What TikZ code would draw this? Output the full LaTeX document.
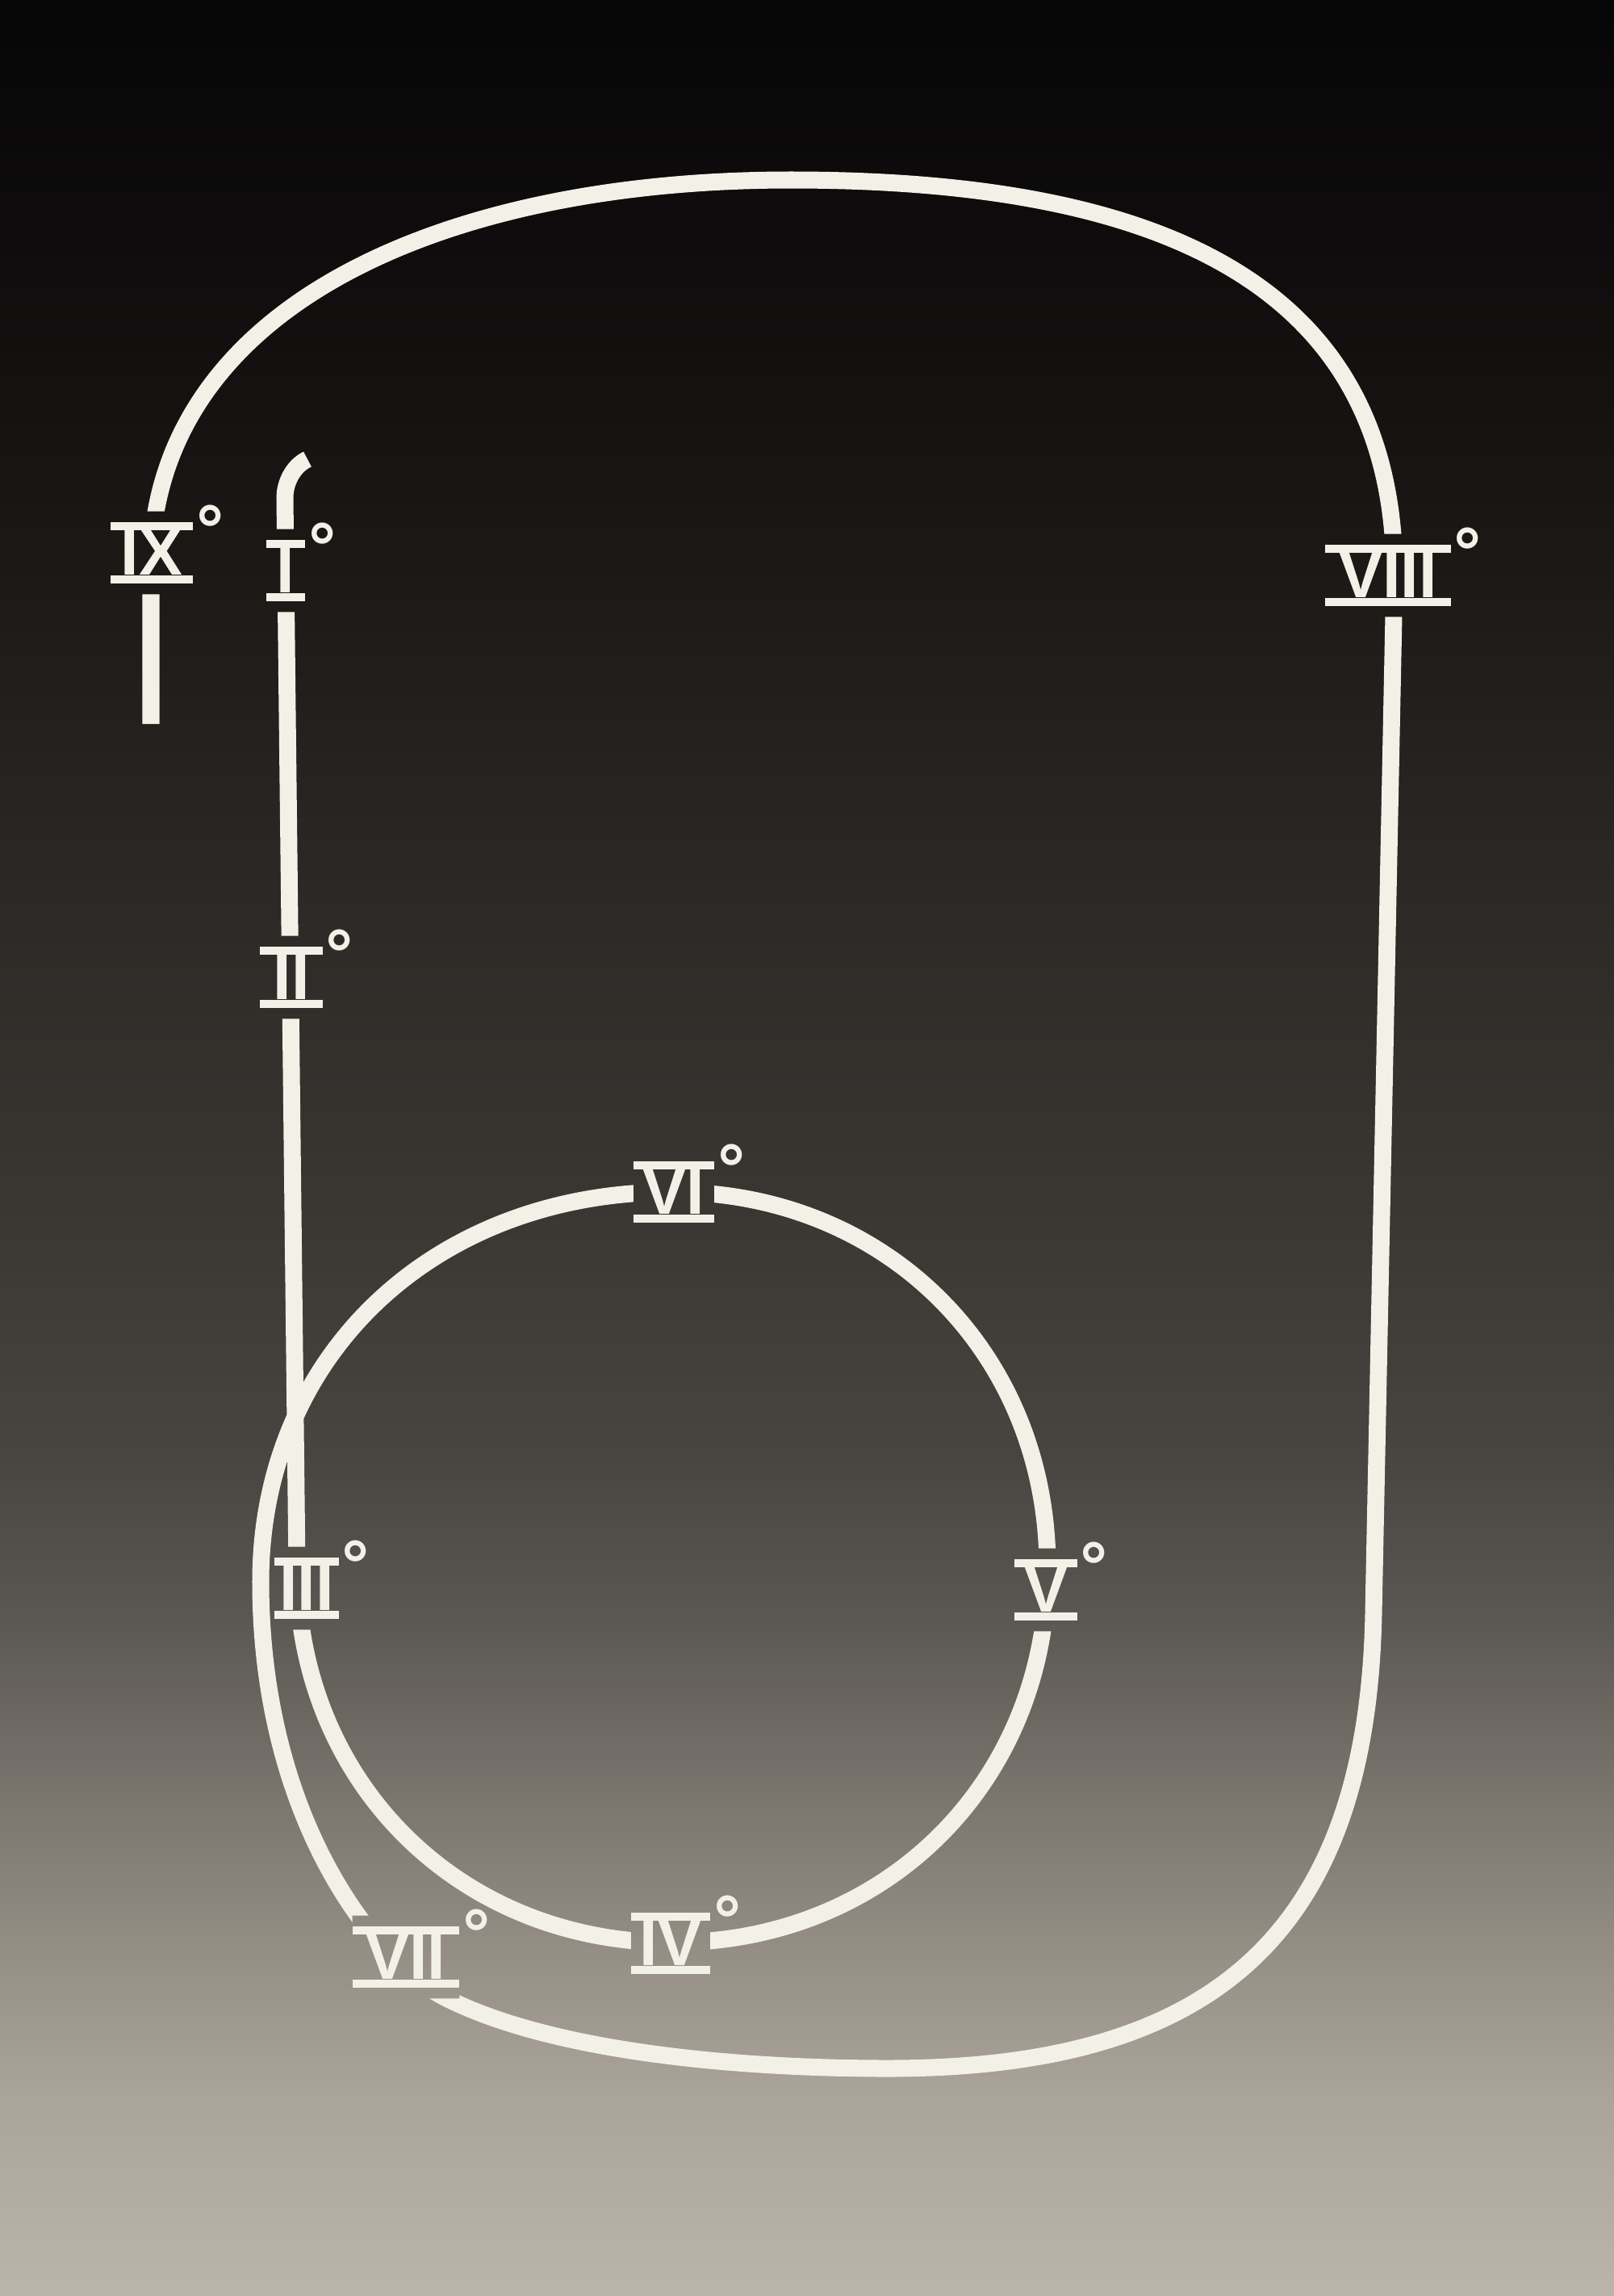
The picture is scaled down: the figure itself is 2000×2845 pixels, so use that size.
\documentclass[tikz,border=0pt]{standalone}
\usepackage{fontspec}
\newfontfamily\rnfont{Liberation Sans}
\newfontfamily\degfont{DejaVu Sans}
\definecolor{trk}{HTML}{F3F0E7}
\definecolor{bga}{HTML}{BAB4A9}
\definecolor{bgb}{HTML}{AAA499}
\definecolor{bgc}{HTML}{928C83}
\definecolor{bgd}{HTML}{76716A}
\definecolor{bge}{HTML}{5A5651}
\definecolor{bgf}{HTML}{484440}
\definecolor{bgg}{HTML}{3A3632}
\definecolor{bgh}{HTML}{2C2825}
\definecolor{bgi}{HTML}{1B1816}
\definecolor{bgj}{HTML}{0E0C0C}
\definecolor{bgk}{HTML}{070606}
\pgfdeclareverticalshading{bgshade}{100bp}{color(0bp)=(bga); color(25bp)=(bga); color(29.3bp)=(bgb); color(32.8bp)=(bgc); color(36.35bp)=(bgd); color(39.85bp)=(bge); color(43.35bp)=(bgf); color(48.65bp)=(bgg); color(55.65bp)=(bgh); color(62.7bp)=(bgi); color(69.75bp)=(bgj); color(75bp)=(bgk); color(100bp)=(bgk)}
\newlength\barh
\setlength\barh{0.105cm}
\newcommand\rnum[2]{\vbox{\hrule height\barh\hbox{\kern#1{\rnfont\bfseries\fontsize{23pt}{23pt}\selectfont#2}\kern#1}\hrule height\barh}}
\newcommand\rlab[2]{\rnum{#1}{#2}\rlap{\kern0.01cm\raisebox{0.37cm}[0pt][0pt]{\degfont\bfseries\fontsize{23pt}{23pt}\selectfont °}}}
\tikzset{
  track/.style={draw=trk, line width=0.21cm},
  labnode/.style={text=trk, inner sep=0pt, outer xsep=0pt, outer ysep=0.13cm, anchor=center}
}
\begin{document}
\begin{tikzpicture}[x=0.01cm,y=-0.01cm]
\useasboundingbox (0,0) rectangle (2000,2845);
\shade[shading=bgshade] (0,0) rectangle (2000,2845);
% labels
\node[labnode] (IX)   at (188,685)  {\rlab{0.13cm}{IX}};
\node[labnode] (I)    at (354,707)  {\rlab{0.13cm}{I}};
\node[labnode] (VIII) at (1720,713) {\rlab{0.17cm}{VIII}};
\node[labnode] (II)   at (361,1211) {\rlab{0.165cm}{II}};
\node[labnode] (VI)   at (835,1477) {\rlab{0.12cm}{VI}};
\node[labnode] (III)  at (380,1968) {\rlab{0.06cm}{III}};
\node[labnode] (V)    at (1296,1970){\rlab{0.12cm}{V}};
\node[labnode] (VII)  at (503,2425) {\rlab{0.17cm}{VII}};
\node[labnode] (IV)   at (831,2408) {\rlab{0.11cm}{IV}};
% track waypoints
\coordinate (hookend) at (381,569);
\coordinate (hookbase) at (353,617);
\coordinate (cirL) at (368,1942);
\coordinate (cirB) at (833,2407);
\coordinate (cirR) at (1298,1942);
\coordinate (cirT) at (833,1477);
\coordinate (spW) at (323,1960);
\coordinate (spE) at (553,2476);
\coordinate (botM) at (1100,2563);
\coordinate (rtB) at (1702,2000);
\coordinate (rtT) at (1728,713);
\coordinate (topM) at (980,223);
\coordinate (lfT) at (187,705);
\coordinate (lfEnd) at (187,897);
\begin{scope}
\clip (0,0) -- (2000,0) -- (2000,2845) -- (0,2845) -- cycle
  \foreach \n in {IX,I,VIII,II,VI,III,V,VII,IV} {
    (\n.south west) -- (\n.south east) -- (\n.north east) -- (\n.north west) -- cycle
  };
\draw[track] (hookend) .. controls +(-17,8) and +(0,-20) .. (hookbase)
  -- (cirL)
  .. controls +(0,265) and +(-265,0) .. (cirB)
  .. controls +(265,0) and +(0,265) .. (cirR)
  .. controls +(0,-265) and +(265,0) .. (cirT)
  .. controls +(-296,0) and +(0,-280) .. (spW)
  .. controls +(0,290) and +(-90,-45) .. (spE)
  .. controls +(127,64) and +(-200,0) .. (botM)
  .. controls +(400,0) and +(-8,400) .. (rtB)
  -- (rtT)
  .. controls +(0,-360) and +(460,0) .. (topM)
  .. controls +(-440,0) and +(0,-320) .. (lfT)
  -- (lfEnd);
\end{scope}
\end{tikzpicture}
\end{document}
